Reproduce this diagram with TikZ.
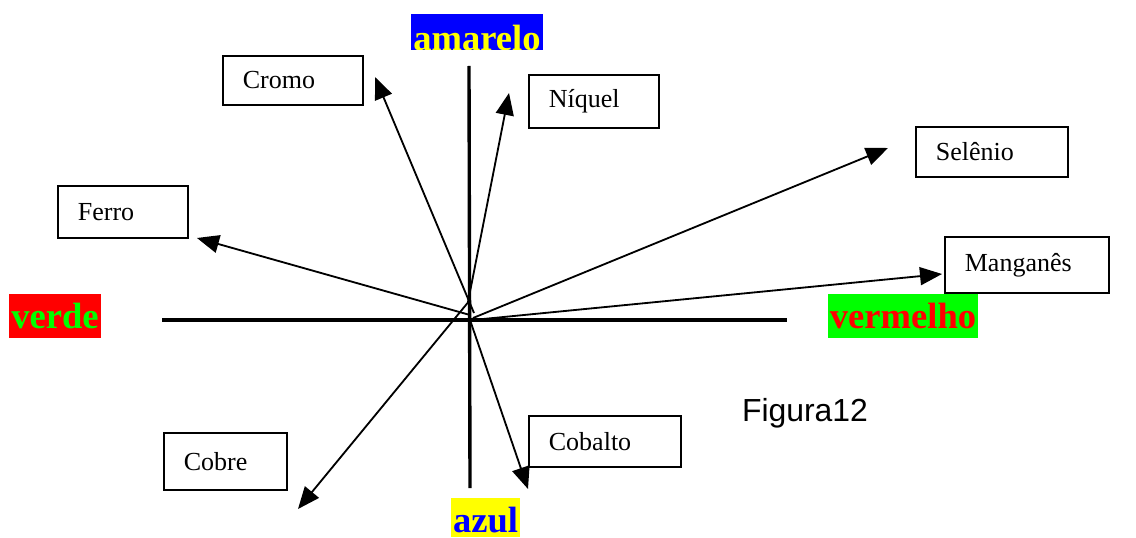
\documentclass[tikz,border=0pt]{standalone}
\usepackage{fontspec}
\setmainfont{Liberation Serif}
\newfontfamily\figfont{Liberation Sans}
\usepackage{xcolor}
\usepackage{tikz}
\usetikzlibrary{arrows.meta}
\definecolor{pureblue}{RGB}{0,0,255}
\definecolor{pureyellow}{RGB}{255,255,0}
\definecolor{purered}{RGB}{255,0,0}
\definecolor{puregreen}{RGB}{0,255,0}

\begin{document}
\begin{tikzpicture}[
  x=0.025cm, y=-0.025cm,
  elem/.style={draw, line width=1.2pt, anchor=north west, align=left, inner xsep=0.5cm, inner ysep=0pt, text width=#1, font=\fontsize{18.5}{22}\selectfont},
  colour/.style={anchor=base, inner xsep=0.05cm, inner ysep=0pt, text height=0.85cm, text depth=0.25cm, font=\fontsize{26}{26}\selectfont\bfseries},
  axis/.style={line width=2.4pt},
  arrow/.style={-{Triangle[length=0.55cm, width=0.45cm]}, line width=1.3pt}
]
\useasboundingbox (0,0) rectangle (1136,538);

% element boxes
\node[elem=2.5cm, minimum height=1.225cm] (cromo) at (222,55) {Cromo};
\node[elem=2.25cm, minimum height=1.325cm] (niquel) at (528,74) {Níquel};
\node[elem=2.8cm, minimum height=1.25cm] (selenio) at (915,126) {Selênio};
\node[elem=2.25cm, minimum height=1.3cm] (ferro) at (57,185) {Ferro};
\node[elem=3.1cm, minimum height=1.4cm] (manganes) at (944,236) {Manganês};
\node[elem=2.075cm, minimum height=1.425cm] (cobre) at (163,432) {Cobre};
\node[elem=2.8cm, minimum height=1.275cm] (cobalto) at (528,415) {Cobalto};

% colour labels
\begin{scope}
  \clip (411,15) rectangle (543,50);
  \node[colour, fill=pureblue, text=pureyellow, minimum width=3.3cm, text height=0.95cm, text depth=0.1cm] (amarelo) at (477,51) {amarelo};
\end{scope}
\node[colour, fill=purered, text=puregreen, minimum width=2.25cm] (verde) at (55,328) {verde};
\node[colour, fill=puregreen, text=purered, minimum width=3.75cm] (vermelho) at (903,328) {vermelho};
\node[colour, fill=pureyellow, text=pureblue, minimum width=1.675cm, text depth=0.12cm] (azul) at (485.5,532) {azul};

\node[font=\figfont\fontsize{22.7}{26}\selectfont] (fig) at (805,413) {Figura12};

% axes
\coordinate (top) at (469,66);
\coordinate (bottom) at (470,488);
\coordinate (left) at (162,320);
\coordinate (right) at (787,320);
\draw[axis] (top) -- (bottom);
\draw[axis] (left) -- (right);

% vectors
\coordinate (oCromo) at (474,313);
\coordinate (tCromo) at (375,77);
\coordinate (oNiquel) at (468,302);
\coordinate (tNiquel) at (509,93);
\coordinate (oFerro) at (470,315);
\coordinate (tFerro) at (197,238);
\coordinate (oCobre) at (470,300);
\coordinate (tCobre) at (298,509);
\coordinate (oSelenio) at (473,318);
\coordinate (tSelenio) at (888,148);
\coordinate (oManganes) at (473,320);
\coordinate (tManganes) at (942,274);
\coordinate (oCobalto) at (470,320);
\coordinate (tCobalto) at (528,489);
\draw[arrow] (oCromo) -- (tCromo);
\draw[arrow] (oNiquel) -- (tNiquel);
\draw[arrow] (oFerro) -- (tFerro);
\draw[arrow] (oCobre) -- (tCobre);
\draw[arrow] (oSelenio) -- (tSelenio);
\draw[arrow] (oManganes) -- (tManganes);
\draw[arrow] (oCobalto) -- (tCobalto);
\end{tikzpicture}
\end{document}
